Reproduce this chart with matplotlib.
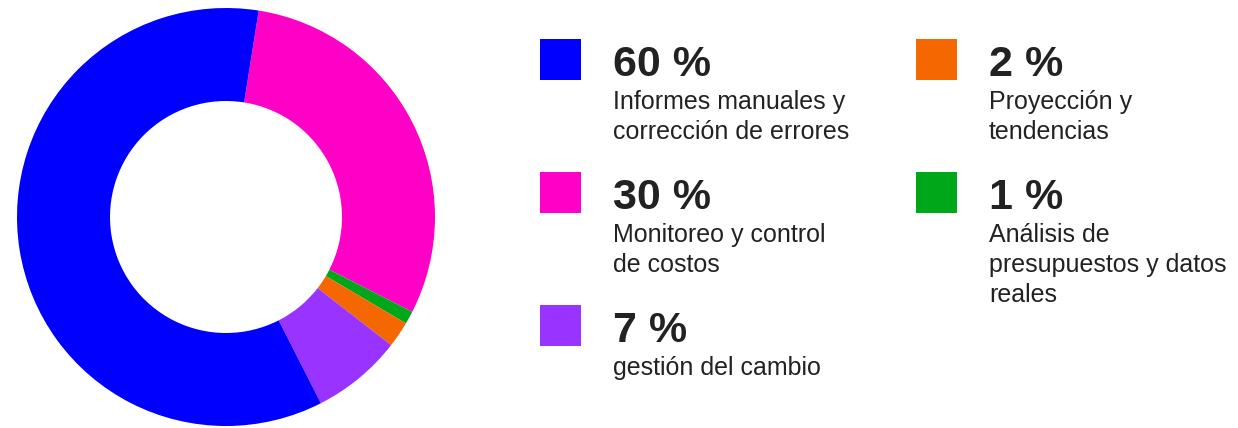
import matplotlib.pyplot as plt

# datos
labels = ['Informes manuales y\ncorrección de errores',
          'Monitoreo y control\nde costos',
          'gestión del cambio',
          'Proyección y\ntendencias',
          'Análisis de\npresupuestos y datos\nreales']
pct = [60, 30, 7, 2, 1]
pct_text = ['60 %', '30 %', '7 %', '2 %', '1 %']
colors = ['#0000ff', '#ff00c6', '#9933ff', '#f56700', '#00a819']

# orden de las porciones en el anillo (sentido horario desde arriba)
ring_order = [1, 4, 3, 2, 0]

W, H = 1238, 428
fig = plt.figure(figsize=(W / 100, H / 100), dpi=100)
plt.rcParams['font.family'] = ['Liberation Sans', 'DejaVu Sans']

# anillo
cx, cy, r = 226, 217, 209
ax = fig.add_axes([(cx - r) / W, (H - cy - r) / H, 2 * r / W, 2 * r / H])
ax.pie([pct[i] for i in ring_order], colors=[colors[i] for i in ring_order],
       startangle=81, counterclock=False, radius=1,
       wedgeprops=dict(width=0.445, linewidth=0))
ax.set_xlim(-1, 1)
ax.set_ylim(-1, 1)
ax.set_aspect('equal')
ax.axis('off')

# leyenda
col_x = [540, 916]
row_y = [39, 172, 305]
pos = [(0, 0), (0, 1), (0, 2), (1, 0), (1, 1)]
txt_color = '#222222'
for i, (c, rw) in enumerate(pos):
    x0 = col_x[c]
    y0 = row_y[rw]
    sq = plt.Rectangle((x0 / W, 1 - (y0 + 41) / H), 41 / W, 41 / H,
                       transform=fig.transFigure, color=colors[i], lw=0)
    fig.patches.append(sq)
    tx = (x0 + 73) / W
    fig.text(tx, 1 - (y0 + 37) / H, pct_text[i], fontsize=31, fontweight='bold',
             color=txt_color, va='baseline', ha='left')
    for k, line in enumerate(labels[i].split('\n')):
        fig.text(tx, 1 - (y0 + 70 + 30 * k) / H, line, fontsize=18,
                 color=txt_color, va='baseline', ha='left')

fig.savefig('out.png', dpi=100, facecolor='white')
